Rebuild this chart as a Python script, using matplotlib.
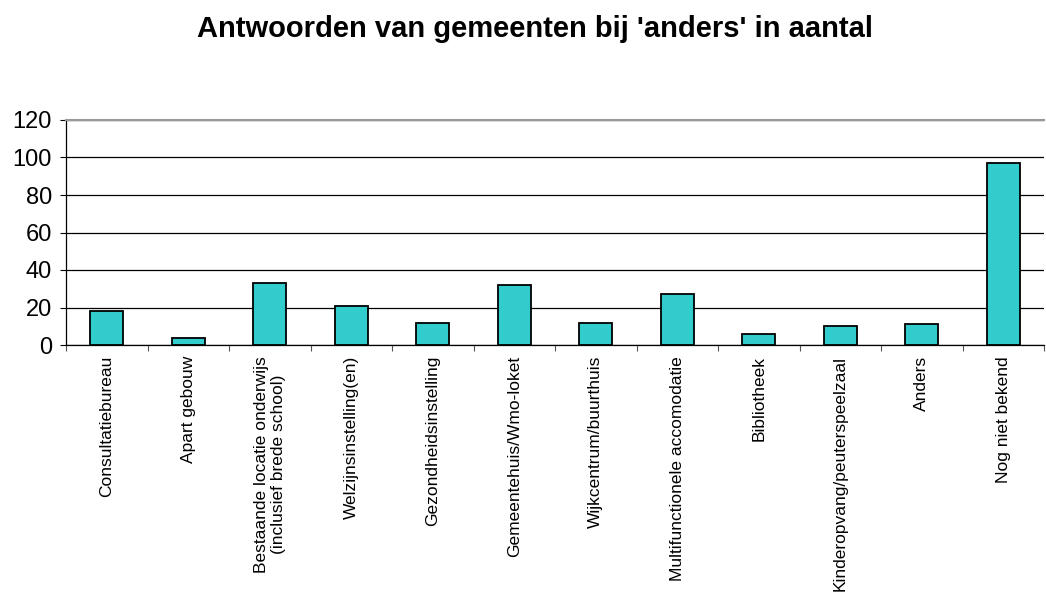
import numpy as np
import matplotlib
matplotlib.use("Agg")
import matplotlib.pyplot as plt

# Data
categories = [
    "Consultatiebureau",
    "Apart gebouw",
    "Bestaande locatie onderwijs\n(inclusief brede school)",
    "Welzijnsinstelling(en)",
    "Gezondheidsinstelling",
    "Gemeentehuis/Wmo-loket",
    "Wijkcentrum/buurthuis",
    "Multifunctionele accomodatie",
    "Bibliotheek",
    "Kinderopvang/peuterspeelzaal",
    "Anders",
    "Nog niet bekend",
]
aantallen = [18, 4, 33, 21, 12, 32, 12, 27, 6, 10, 11, 97]
y_ticks = [0, 20, 40, 60, 80, 100, 120]
titel = "Antwoorden van gemeenten bij 'anders' in aantal"

plt.rcParams['font.family'] = ['Liberation Sans', 'DejaVu Sans']

fig = plt.figure(figsize=(10.46, 6.01), dpi=100)
ax = fig.add_axes([66 / 1046, 1 - 345 / 601, (1044 - 66) / 1046, 225 / 601])

x = np.arange(len(categories))
ax.bar(x, aantallen, width=0.4, color='#33CCCC', edgecolor='black', linewidth=1.3, zorder=3)

ax.set_xlim(-0.5, len(categories) - 0.5)
ax.set_ylim(0, 120)

# horizontale rasterlijnen
ax.set_yticks(y_ticks)
ax.set_yticklabels([str(v) for v in y_ticks], fontsize=17)
ax.yaxis.grid(True, color='black', linewidth=0.9, zorder=0)
ax.tick_params(axis='y', direction='out', length=4, width=0.8, pad=6)

# streepjes tussen de categorieen, labels in het midden
ax.set_xticks(np.arange(len(categories) + 1) - 0.5)
ax.set_xticklabels([])
ax.tick_params(axis='x', which='major', direction='out', length=4, width=0.8, color='#555555')
ax.set_xticks(x, minor=True)
ax.set_xticklabels(categories, minor=True, rotation=90, fontsize=12.5, multialignment='center')
ax.tick_params(axis='x', which='minor', length=0, pad=8)

ax.spines['right'].set_visible(False)
ax.spines['top'].set_color('#999999')
ax.spines['top'].set_linewidth(1.5)
ax.spines['left'].set_linewidth(0.9)
ax.spines['bottom'].set_linewidth(0.9)

fig.text(535 / 1046, 1 - 29 / 601, titel, ha='center', va='center',
         fontsize=21, fontweight='bold')

fig.savefig('out.png', dpi=100)
